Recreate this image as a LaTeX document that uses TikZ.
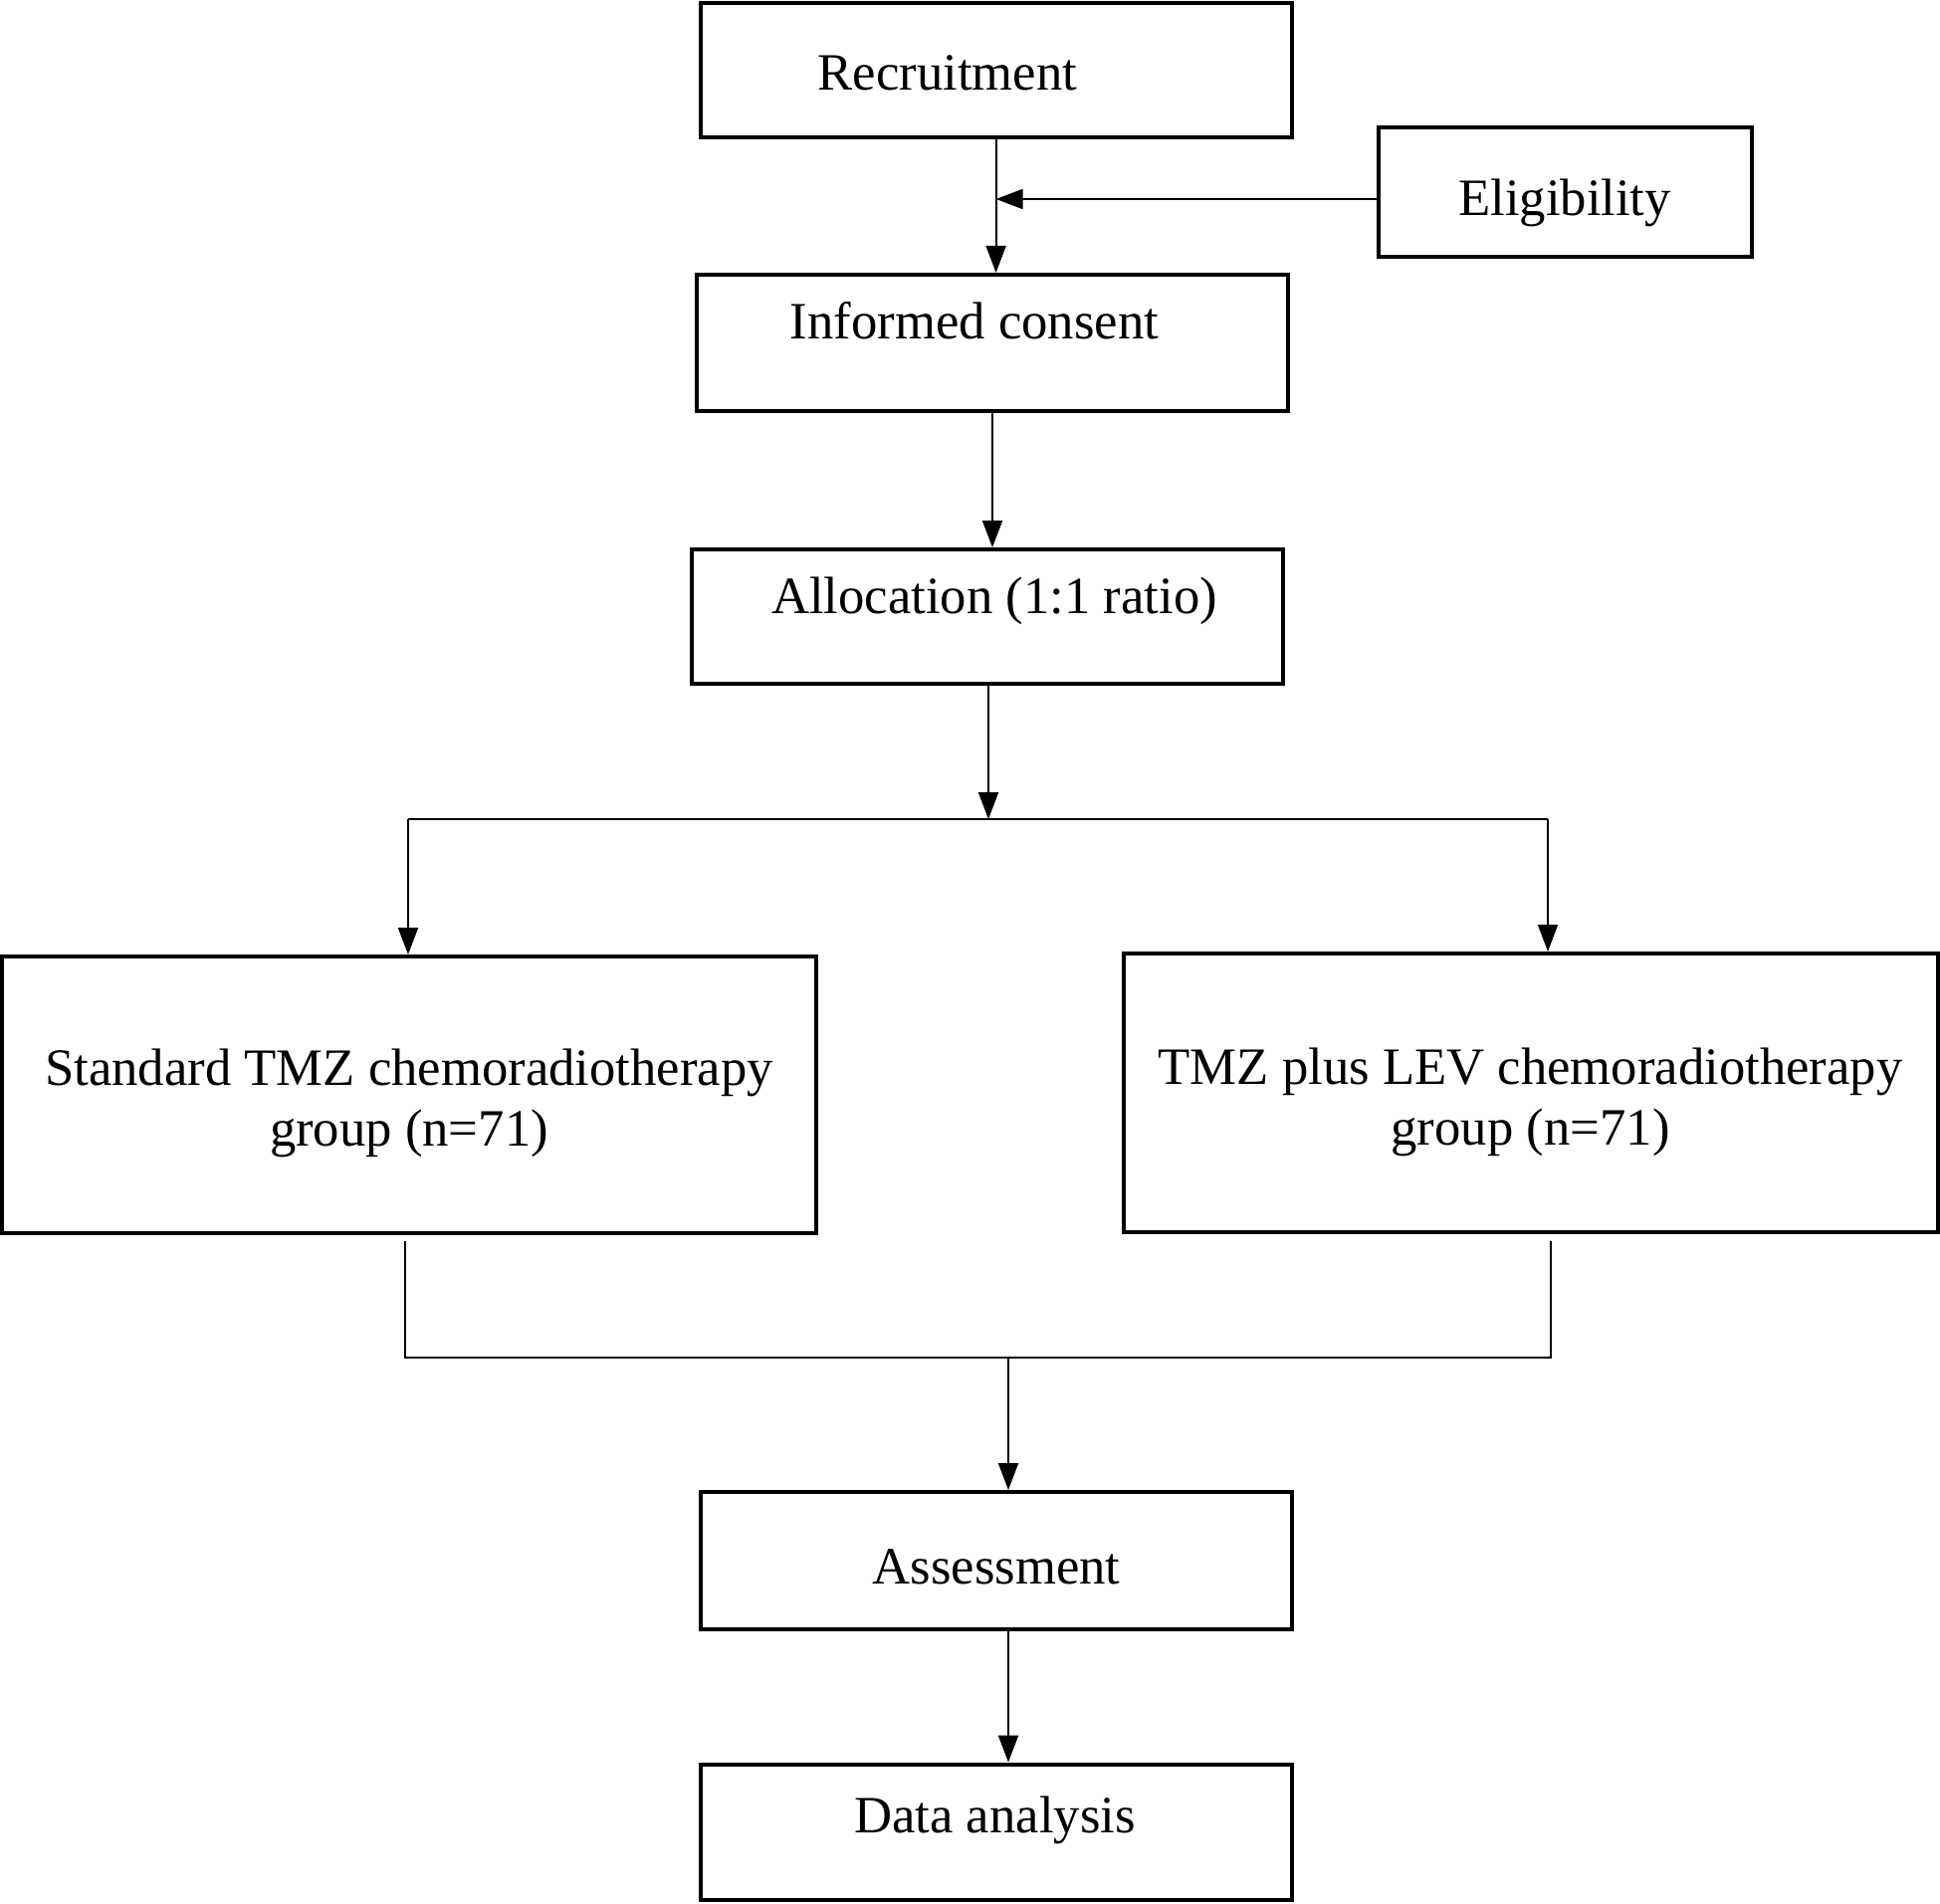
\documentclass[tikz,border=0pt]{standalone}
\usepackage{fontspec}
\setmainfont{Liberation Serif}
\usetikzlibrary{arrows.meta}
\begin{document}
\begin{tikzpicture}[x=1pt,y=-1pt,
  box/.style={draw, line width=4pt, inner sep=0pt},
  txt/.style={inner sep=0pt, font=\fontsize{52.7}{61}\selectfont, align=center},
  conn/.style={line width=2pt, -{Triangle[length=27pt,width=20pt]}},
  plain/.style={line width=2pt}]
\useasboundingbox (0,0) rectangle (1949,1912);
% boxes
\node[box, minimum width=594pt, minimum height=135.5pt] (rec) at (1000.6,70.3) {};
\node[box, minimum width=375.3pt, minimum height=130pt] (elig) at (1572.4,192.5) {};
\node[box, minimum width=594pt, minimum height=136.7pt] (inf) at (997,344.3) {};
\node[box, minimum width=594pt, minimum height=135pt] (alloc) at (992,619.5) {};
\node[box, minimum width=817.5pt, minimum height=278pt] (left) at (411.2,1100) {};
\node[box, minimum width=818pt, minimum height=280pt] (right) at (1537.6,1098) {};
\node[box, minimum width=594pt, minimum height=138pt] (assess) at (1000.6,1568) {};
\node[box, minimum width=594pt, minimum height=136.5pt] (data) at (1000.6,1840.8) {};
% texts
\node[txt, anchor=base] (trec) at (952,90.7) {Recruitment};
\node[txt, anchor=base] (telig) at (1572,216) {Eligibility};
\node[txt, anchor=base] (tinf) at (979,340.7) {Informed consent};
\node[txt, anchor=base] (talloc) at (999,616.7) {Allocation (1:1 ratio)};
\node[txt, anchor=base] (tleft) at (411,1151.7) {Standard TMZ chemoradiotherapy\\group (n=71)};
\node[txt, anchor=base] (tright) at (1537.6,1150) {TMZ plus LEV chemoradiotherapy\\group (n=71)};
\node[txt, anchor=base] (tassess) at (1001,1591) {Assessment};
\node[txt, anchor=base] (tdata) at (999.4,1841) {Data analysis};
% connectors
\coordinate (j1) at (1000.6,200);
\draw[conn] (rec.south) -- (rec.south |- inf.north);
\draw[conn] (j1 -| elig.west) -- (j1);
\draw[conn] (inf.south) -- (inf.south |- alloc.north);
\coordinate (split) at (993,823);
\coordinate (sl) at (410,823);
\coordinate (sr) at (1555,823);
\draw[conn] (alloc.south -| split) -- (split);
\draw[plain] (sl) -- (sr);
\draw[conn] (sl) -- (sl |- left.north);
\draw[conn] (sr) -- (sr |- right.north);
\coordinate (bl) at (406.5,1247);
\coordinate (bl2) at (406.5,1364);
\coordinate (br) at (1557.5,1247);
\coordinate (br2) at (1557.5,1364);
\coordinate (mj) at (1013,1364);
\draw[plain] (bl) -- (bl2) -- (br2) -- (br);
\draw[conn] (mj) -- (mj |- assess.north);
\draw[conn] (assess.south -| mj) -- (data.north -| mj);
\end{tikzpicture}
\end{document}
